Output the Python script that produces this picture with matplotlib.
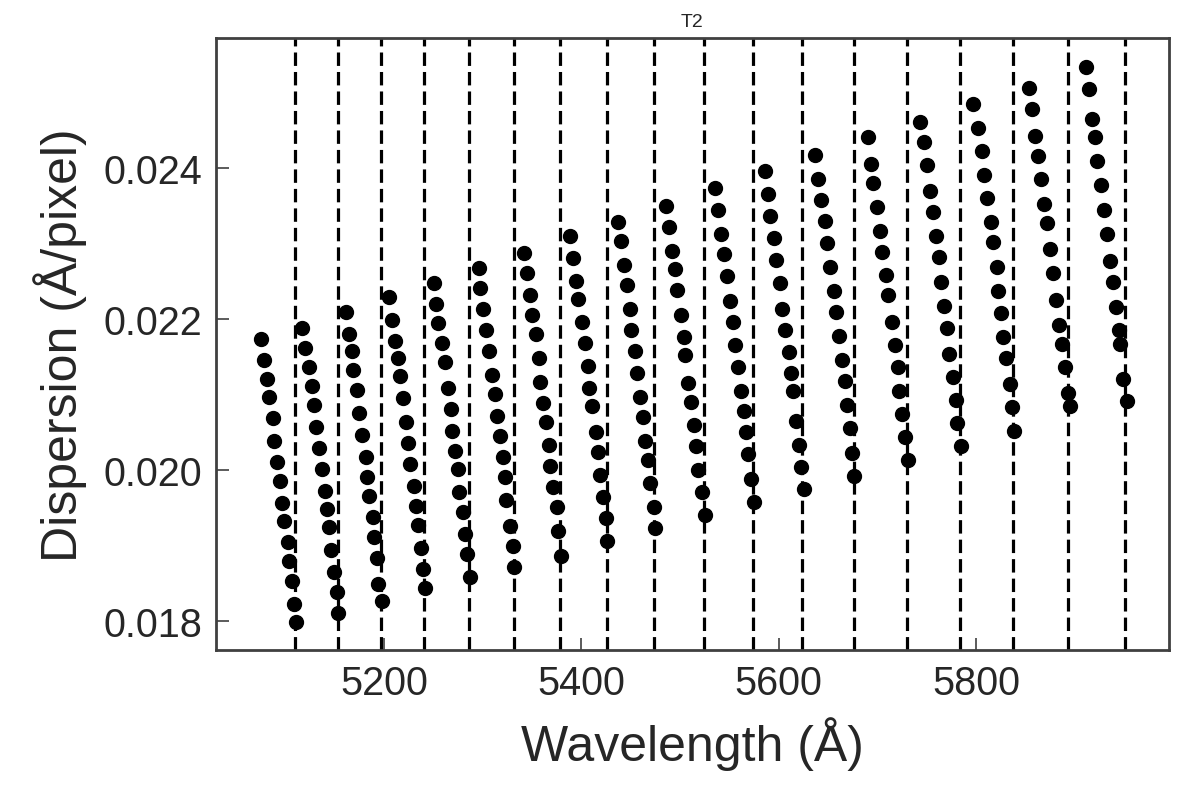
import matplotlib
matplotlib.use("Agg")
import matplotlib.pyplot as plt

plt.rcParams['font.family'] = ['Liberation Sans', 'DejaVu Sans']

# Wavelength (Å) of each point, one list per echelle order
order_wavelengths = [
    [5074.8, 5078.2, 5080.9, 5083.6, 5087.0, 5088.3, 5091.4, 5094.4, 5096.1, 5098.8, 5102.2, 5103.5, 5106.9, 5108.3, 5110.9],
    [5117.0, 5119.8, 5123.5, 5126.5, 5128.9, 5130.9, 5133.9, 5136.7, 5140.0, 5141.8, 5144.1, 5145.8, 5149.2, 5152.2, 5153.5],
    [5161.0, 5164.4, 5167.1, 5168.7, 5172.2, 5174.8, 5177.9, 5181.3, 5182.3, 5185.0, 5188.4, 5189.7, 5193.1, 5194.1, 5197.5],
    [5204.9, 5208.3, 5211.0, 5213.8, 5215.8, 5218.8, 5221.9, 5224.5, 5226.2, 5230.0, 5232.0, 5234.0, 5237.1, 5239.7, 5241.4],
    [5250.9, 5252.6, 5254.9, 5258.4, 5261.7, 5264.5, 5267.5, 5268.5, 5271.9, 5274.6, 5276.2, 5279.7, 5282.0, 5283.7, 5287.1],
    [5296.2, 5297.2, 5300.5, 5303.0, 5306.6, 5309.1, 5312.4, 5314.1, 5317.5, 5320.2, 5322.6, 5323.6, 5327.6, 5330.4, 5332.0],
    [5341.8, 5344.6, 5347.9, 5350.2, 5353.7, 5357.0, 5358.0, 5360.8, 5364.1, 5367.5, 5368.2, 5371.5, 5375.0, 5376.6, 5379.3],
    [5388.5, 5391.2, 5394.2, 5396.9, 5400.3, 5403.7, 5406.4, 5407.7, 5411.1, 5414.5, 5417.2, 5418.9, 5422.2, 5425.0, 5426.3],
    [5437.1, 5439.9, 5442.9, 5446.3, 5449.0, 5450.6, 5454.1, 5456.7, 5459.7, 5462.5, 5464.2, 5467.6, 5469.9, 5473.6, 5475.0],
    [5486.1, 5488.5, 5491.9, 5494.6, 5497.3, 5500.7, 5503.8, 5505.4, 5508.1, 5510.8, 5514.2, 5516.5, 5518.3, 5522.3, 5525.3],
    [5535.8, 5538.5, 5541.9, 5544.6, 5548.0, 5551.0, 5553.7, 5555.5, 5558.8, 5561.5, 5564.6, 5567.2, 5569.0, 5572.3, 5575.0],
    [5585.9, 5589.2, 5591.6, 5595.0, 5597.6, 5601.1, 5603.4, 5606.8, 5610.2, 5612.9, 5614.6, 5617.3, 5620.4, 5623.0, 5625.7],
    [5637.2, 5639.9, 5643.3, 5646.7, 5649.4, 5652.4, 5655.9, 5658.5, 5661.2, 5664.6, 5667.6, 5669.3, 5672.7, 5674.7, 5676.1],
    [5690.3, 5693.4, 5696.0, 5699.5, 5702.8, 5705.1, 5708.6, 5711.2, 5714.7, 5718.0, 5721.4, 5722.1, 5725.4, 5728.1, 5731.5],
    [5743.4, 5747.4, 5750.8, 5753.5, 5756.8, 5759.6, 5762.9, 5764.3, 5767.7, 5770.4, 5773.1, 5777.1, 5779.9, 5781.2, 5784.6],
    [5797.4, 5802.5, 5805.9, 5808.3, 5811.0, 5815.0, 5817.7, 5821.1, 5822.1, 5825.2, 5827.8, 5830.6, 5834.6, 5837.0, 5838.7],
    [5853.9, 5856.6, 5860.0, 5863.3, 5865.7, 5869.1, 5872.4, 5875.2, 5877.9, 5881.3, 5884.3, 5887.0, 5890.4, 5893.7, 5895.5],
    [5911.4, 5914.7, 5917.5, 5920.8, 5923.1, 5926.6, 5929.9, 5932.7, 5936.0, 5938.8, 5941.8, 5945.4, 5946.2, 5949.5, 5953.0],
]

# Dispersion (Å/pixel) of each point, one list per order
order_dispersions = [
    [0.021736, 0.021458, 0.021206, 0.020963, 0.020688, 0.020387, 0.020109, 0.019857, 0.019561, 0.019318, 0.019040, 0.018796, 0.018527, 0.018221, 0.017979],
    [0.021878, 0.021617, 0.021361, 0.021109, 0.020861, 0.020565, 0.020286, 0.020012, 0.019720, 0.019481, 0.019239, 0.018942, 0.018642, 0.018385, 0.018098],
    [0.022098, 0.021802, 0.021581, 0.021325, 0.021064, 0.020751, 0.020467, 0.020167, 0.019910, 0.019658, 0.019379, 0.019106, 0.018828, 0.018487, 0.018265],
    [0.022297, 0.021992, 0.021714, 0.021480, 0.021241, 0.020950, 0.020631, 0.020353, 0.020078, 0.019790, 0.019525, 0.019273, 0.018964, 0.018686, 0.018430],
    [0.022475, 0.022200, 0.021944, 0.021683, 0.021427, 0.021086, 0.020808, 0.020512, 0.020255, 0.020012, 0.019703, 0.019446, 0.019150, 0.018885, 0.018576],
    [0.022674, 0.022412, 0.022134, 0.021859, 0.021581, 0.021263, 0.021007, 0.020719, 0.020454, 0.020175, 0.019902, 0.019601, 0.019260, 0.018987, 0.018708],
    [0.022873, 0.022611, 0.022320, 0.022058, 0.021802, 0.021484, 0.021162, 0.020883, 0.020631, 0.020334, 0.020056, 0.019777, 0.019504, 0.019186, 0.018862],
    [0.023106, 0.022810, 0.022509, 0.022267, 0.021958, 0.021679, 0.021382, 0.021086, 0.020844, 0.020507, 0.020233, 0.019936, 0.019637, 0.019362, 0.019061],
    [0.023292, 0.023032, 0.022717, 0.022456, 0.022134, 0.021859, 0.021581, 0.021281, 0.020971, 0.020698, 0.020387, 0.020131, 0.019822, 0.019504, 0.019225],
    [0.023504, 0.023225, 0.022907, 0.022664, 0.022390, 0.022058, 0.021759, 0.021524, 0.021149, 0.020905, 0.020595, 0.020321, 0.019999, 0.019703, 0.019402],
    [0.023739, 0.023447, 0.023129, 0.022863, 0.022576, 0.022236, 0.021958, 0.021656, 0.021369, 0.021042, 0.020785, 0.020499, 0.020211, 0.019879, 0.019570],
    [0.023960, 0.023659, 0.023363, 0.023072, 0.022788, 0.022475, 0.022134, 0.021859, 0.021560, 0.021281, 0.021042, 0.020645, 0.020334, 0.020034, 0.019747],
    [0.024176, 0.023858, 0.023580, 0.023305, 0.023009, 0.022695, 0.022377, 0.022098, 0.021780, 0.021462, 0.021183, 0.020865, 0.020552, 0.020224, 0.019923],
    [0.024419, 0.024057, 0.023801, 0.023483, 0.023164, 0.022886, 0.022589, 0.022320, 0.021958, 0.021660, 0.021361, 0.021050, 0.020741, 0.020432, 0.020131],
    [0.024618, 0.024353, 0.024044, 0.023703, 0.023424, 0.023106, 0.022820, 0.022488, 0.022178, 0.021878, 0.021537, 0.021228, 0.020927, 0.020622, 0.020313],
    [0.024853, 0.024535, 0.024233, 0.023915, 0.023602, 0.023292, 0.023027, 0.022687, 0.022377, 0.022081, 0.021767, 0.021480, 0.021139, 0.020830, 0.020512],
    [0.025065, 0.024786, 0.024432, 0.024159, 0.023858, 0.023527, 0.023271, 0.022930, 0.022607, 0.022257, 0.021922, 0.021670, 0.021361, 0.021016, 0.020844],
    [0.025347, 0.025052, 0.024654, 0.024411, 0.024093, 0.023778, 0.023447, 0.023129, 0.022775, 0.022488, 0.022157, 0.021859, 0.021670, 0.021206, 0.020910],
]

# Order boundaries (dashed vertical lines), Å
order_edges = [5109.9, 5152.9, 5196.5, 5240.7, 5286.4, 5331.7, 5378.3, 5425.7, 5473.9,
               5524.3, 5574.3, 5624.0, 5676.7, 5730.5, 5783.9, 5838.0, 5893.7, 5951.2]

x_ticks = [5200, 5400, 5600, 5800]
y_ticks = [0.018, 0.020, 0.022, 0.024]

title_text = "T2"
x_label = "Wavelength (Å)"
y_label = "Dispersion (Å/pixel)"

fig = plt.figure(figsize=(11.96, 8.04), dpi=100)
ax = fig.add_axes([0.1806, 0.1903, 0.7968, 0.7618])

for edge in order_edges:
    ax.axvline(edge, color='black', linestyle=(0, (4.2, 1.9)), linewidth=2.3, zorder=1)

for wl, disp in zip(order_wavelengths, order_dispersions):
    ax.plot(wl, disp, 'o', color='black', markersize=10, linestyle='none', zorder=3)

ax.set_xlim(5029.5, 5995.8)
ax.set_ylim(0.017611, 0.025735)
ax.set_xticks(x_ticks)
ax.set_yticks(y_ticks)
ax.set_yticklabels([f"{v:.3f}" for v in y_ticks])
ax.set_xticklabels([str(v) for v in x_ticks])

text_color = '#262626'
spine_color = '#404040'
for s in ax.spines.values():
    s.set_color(spine_color)
    s.set_linewidth(2.0)

ax.tick_params(axis='both', which='major', direction='in', length=9, width=1.2,
               color=spine_color, labelsize=28.5, labelcolor=text_color, pad=10)
ax.tick_params(top=False, right=False)

ax.set_xlabel(x_label, fontsize=36, color=text_color)
ax.set_ylabel(y_label, fontsize=36, color=text_color)
ax.xaxis.set_label_coords(0.5, -0.108)
ax.yaxis.set_label_coords(-0.135, 0.5)
ax.set_title(title_text, fontsize=14, color=text_color, pad=8.5)

fig.savefig("out.png", dpi=100)
